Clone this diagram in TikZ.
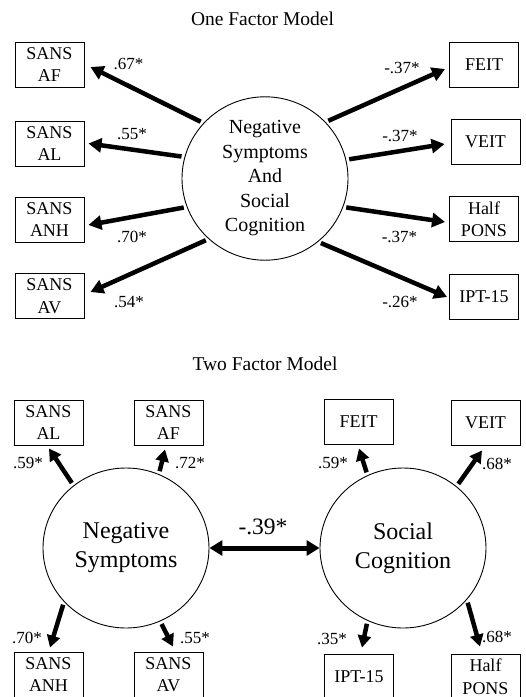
\documentclass[tikz,border=0pt]{standalone}
\usepackage{fontspec}
\setmainfont{Liberation Serif}
\usetikzlibrary{arrows.meta,shapes.geometric}
\begin{document}
\begin{tikzpicture}[x=1pt,y=1pt,
  box/.style={draw,line width=0.9pt,minimum width=69pt,minimum height=45pt,inner sep=0pt,align=center,font=\fontsize{18}{22.5}\selectfont},
  latent/.style={draw,ellipse,line width=0.9pt,minimum width=166pt,minimum height=160pt,inner sep=0pt,align=center},
  lab/.style={font=\fontsize{17}{20}\selectfont,inner sep=0pt},
  ttl/.style={font=\fontsize{19.5}{23}\selectfont,inner sep=0pt,anchor=base},
  load/.style={line width=4.5pt,-{Triangle[length=13pt,width=14pt]},shorten <=3pt},
  load2/.style={line width=4.5pt,-{Triangle[length=12pt,width=13pt]},shorten <=3pt},
  corr/.style={line width=5pt,{Triangle[length=13pt,width=15pt]}-{Triangle[length=13pt,width=15pt]}}
]
\clip (0,0) rectangle (526,-697);
\useasboundingbox (0,0) rectangle (526,-697);
\fill[white] (0,0) rectangle (526,-697);

% ---------- One Factor Model ----------
\node[ttl] (t1) at (262.5,-25) {One Factor Model};
\node[latent,font=\fontsize{20}{24.5}\selectfont] (c1) at (265,-178.5) {Negative\\Symptoms\\And\\Social\\Cognition};

\node[box] (af1)  at (49.5,-64.5)  {SANS\\AF};
\node[box] (al1)  at (49.5,-143.5) {SANS\\AL};
\node[box] (anh1) at (49.5,-219.5) {SANS\\ANH};
\node[box] (av1)  at (49.5,-296)   {SANS\\AV};
\node[box] (feit1) at (484,-64.5)  {FEIT};
\node[box] (veit1) at (485.5,-142) {VEIT};
\node[box] (pons1) at (484,-219)   {Half\\PONS};
\node[box] (ipt1)  at (484,-296.5) {IPT-15};

\draw[load] (c1.138) -- ([shift={(6,-2.5)}]af1.east);
\draw[load] (c1.165.8) -- ([shift={(4,0)}]al1.east);
\draw[load] (c1.200.4) -- ([shift={(4,-5.5)}]anh1.east);
\draw[load] (c1.227.6) -- ([shift={(6,4)}]av1.east);
\draw[load] (c1.43.4) -- ([shift={(-4,-4.5)}]feit1.west);
\draw[load] (c1.13.9) -- ([shift={(-6,-2)}]veit1.west);
\draw[load] (c1.-20.4) -- ([shift={(-4,-3)}]pons1.west);
\draw[load] (c1.-50.3) -- ([shift={(-2,-0.5)}]ipt1.west);

\node[lab] (l1) at (128.5,-63.5) {.67*};
\node[lab] (l2) at (132,-134) {.55*};
\node[lab] (l3) at (132,-236.5) {.70*};
\node[lab] (l4) at (129,-302) {.54*};
\node[lab] (l5) at (402,-67.5) {-.37*};
\node[lab] (l6) at (400,-135.5) {-.37*};
\node[lab] (l7) at (399.5,-236.5) {-.37*};
\node[lab] (l8) at (400,-302) {-.26*};

% ---------- Two Factor Model ----------
\node[ttl] (t2) at (265,-370) {Two Factor Model};
\node[latent,font=\fontsize{24}{29}\selectfont] (ns) at (126,-548) {Negative\\Symptoms};
\node[latent,font=\fontsize{24}{29}\selectfont] (sc) at (403,-548) {Social\\Cognition};

\node[box] (al2)  at (48.5,-422.5)  {SANS\\AL};
\node[box] (af2)  at (168.5,-422.5) {SANS\\AF};
\node[box] (feit2) at (358.5,-421.5) {FEIT};
\node[box] (veit2) at (485.5,-422.5) {VEIT};
\node[box] (anh2) at (48.5,-674.5)  {SANS\\ANH};
\node[box] (av2)  at (168.5,-674.5) {SANS\\AV};
\node[box] (ipt2)  at (359,-676.5)  {IPT-15};
\node[box] (pons2) at (485.5,-676.5) {Half\\PONS};

\draw[load2] (ns.130.8) -- ([shift={(0.5,-3)}]al2.south);
\draw[load2] (ns.66.2) -- ([shift={(-3.5,-4)}]af2.south);
\draw[load2] (ns.221.6) -- ([shift={(1.5,4)}]anh2.north);
\draw[load2] (ns.-65.3) -- ([shift={(4.5,5)}]av2.north);
\draw[load2] (sc.116) -- ([shift={(0.5,-4)}]feit2.south);
\draw[load2] (sc.49.2) -- ([shift={(-3.5,-5)}]veit2.south);
\draw[load2] (sc.244) -- ([shift={(3,6)}]ipt2.north);
\draw[load2] (sc.-39.8) -- ([shift={(-5.5,7)}]pons2.north);

\draw[corr] (ns.east) -- (sc.west);
\node[font=\fontsize{23.5}{28}\selectfont,inner sep=0pt] (r) at (263,-526.5) {-.39*};

\node[lab] (m1) at (28,-463) {.59*};
\node[lab] (m2) at (190,-463) {.72*};
\node[lab] (m3) at (333,-463) {.59*};
\node[lab] (m4) at (497,-464) {.68*};
\node[lab] (m5) at (27,-638) {.70*};
\node[lab] (m6) at (195,-638) {.55*};
\node[lab] (m7) at (332,-639) {.35*};
\node[lab] (m8) at (497,-637) {.68*};
\end{tikzpicture}
\end{document}
